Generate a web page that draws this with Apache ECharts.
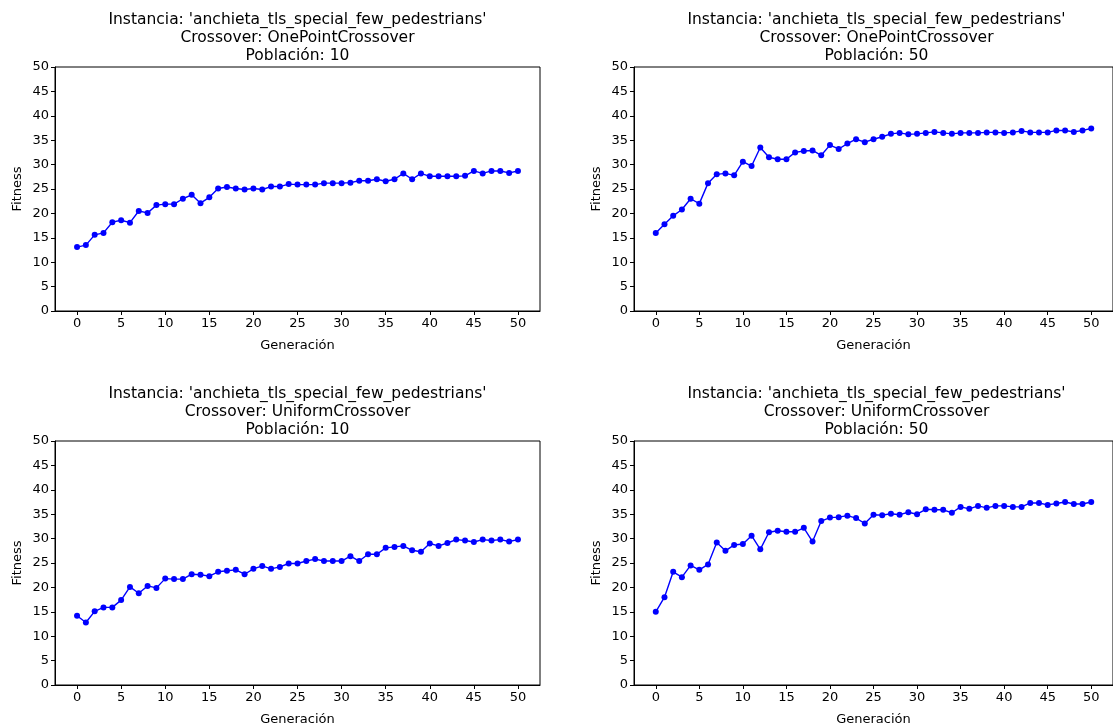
<!DOCTYPE html>
<html>
<head>
<meta charset="utf-8">
<script src="https://cdn.jsdelivr.net/npm/echarts@6/dist/echarts.min.js"></script>
<style>
html,body{margin:0;padding:0;background:#fff;}
#c{width:1113px;height:727px;}
</style>
</head>
<body>
<div id="c"></div>
<script>
const generations = Array.from({length: 51}, (_, i) => i);
const xTicks = [0, 5, 10, 15, 20, 25, 30, 35, 40, 45, 50];
const yTicks = [0, 5, 10, 15, 20, 25, 30, 35, 40, 45, 50];

const onePoint10 = [13.1,13.5,15.6,16.0,18.2,18.6,18.1,20.5,20.1,21.7,21.9,21.9,23.0,23.8,22.1,23.3,25.1,25.4,25.1,24.9,25.1,24.9,25.5,25.5,26.0,25.9,25.9,25.9,26.2,26.2,26.2,26.3,26.7,26.7,27.0,26.6,27.0,28.2,27.0,28.2,27.6,27.6,27.6,27.6,27.7,28.7,28.2,28.7,28.7,28.3,28.7];
const onePoint50 = [16.0,17.8,19.5,20.8,23.0,22.0,26.2,28.0,28.2,27.8,30.6,29.7,33.5,31.5,31.1,31.1,32.5,32.8,32.9,31.9,34.0,33.2,34.3,35.2,34.6,35.2,35.7,36.3,36.5,36.2,36.3,36.5,36.7,36.5,36.3,36.5,36.5,36.5,36.6,36.6,36.5,36.6,36.9,36.6,36.6,36.6,37.0,37.0,36.7,37.0,37.4];
const uniform10 = [14.2,12.8,15.1,15.9,15.9,17.4,20.1,18.8,20.3,19.9,21.8,21.7,21.7,22.7,22.6,22.3,23.2,23.4,23.6,22.7,23.8,24.4,23.8,24.2,24.9,24.9,25.4,25.8,25.4,25.4,25.4,26.4,25.4,26.8,26.8,28.1,28.3,28.5,27.6,27.3,29.0,28.5,29.1,29.8,29.6,29.3,29.8,29.6,29.8,29.4,29.8];
const uniform50 = [15.0,18.0,23.2,22.1,24.5,23.6,24.7,29.2,27.5,28.7,28.9,30.6,27.8,31.3,31.6,31.4,31.4,32.2,29.4,33.6,34.3,34.4,34.7,34.2,33.1,34.9,34.8,35.1,34.9,35.4,35.0,36.0,35.9,35.9,35.3,36.5,36.1,36.7,36.3,36.7,36.7,36.5,36.5,37.3,37.3,36.9,37.2,37.5,37.1,37.1,37.5];

const instanceName = "Instancia: 'anchieta_tls_special_few_pedestrians'";
const panels = [
  {crossover: 'OnePointCrossover', pop: 10, data: onePoint10},
  {crossover: 'OnePointCrossover', pop: 50, data: onePoint50},
  {crossover: 'UniformCrossover', pop: 10, data: uniform10},
  {crossover: 'UniformCrossover', pop: 50, data: uniform50}
];

const FONT = 'DejaVu Sans';
const lefts = [55, 634];
const tops = [67, 441];
const W = 485, H = 244;

const grids = [], xAxes = [], yAxes = [], series = [], titles = [];
panels.forEach((p, i) => {
  const col = i % 2, row = Math.floor(i / 2);
  grids.push({left: lefts[col], top: tops[row], width: W, height: H,
    show: true, borderColor: '#000', borderWidth: 1, backgroundColor: 'transparent', containLabel: false});
  xAxes.push({
    type: 'value', gridIndex: i, min: -2.5, max: 52.5,
    name: 'Generación', nameLocation: 'middle', nameGap: 28,
    nameTextStyle: {fontFamily: FONT, fontSize: 13, color: '#000'},
    axisLine: {show: true, onZero: false, lineStyle: {color: '#000', width: 1}},
    axisTick: {show: true, length: 4, lineStyle: {color: '#000'}, customValues: xTicks},
    axisLabel: {fontFamily: FONT, fontSize: 13, color: '#000', margin: 6, customValues: xTicks},
    splitLine: {show: false}
  });
  yAxes.push({
    type: 'value', gridIndex: i, min: 0, max: 50, interval: 5,
    name: 'Fitness', nameLocation: 'middle', nameGap: 31,
    nameTextStyle: {fontFamily: FONT, fontSize: 13, color: '#000'},
    axisLine: {show: true, onZero: false, lineStyle: {color: '#000', width: 1}},
    axisTick: {show: true, length: 4, lineStyle: {color: '#000'}},
    axisLabel: {fontFamily: FONT, fontSize: 13, color: '#000', margin: 6},
    splitLine: {show: false}
  });
  series.push({
    type: 'line', xAxisIndex: i, yAxisIndex: i,
    data: generations.map((g, k) => [g, p.data[k]]),
    symbol: 'circle', symbolSize: 6, showSymbol: true,
    lineStyle: {color: '#0000ff', width: 1.4},
    itemStyle: {color: '#0000ff'},
    emphasis: {disabled: true}
  });
  titles.push({
    text: instanceName + '\nCrossover: ' + p.crossover + '\nPoblación: ' + p.pop,
    left: lefts[col] + W / 2, top: tops[row] - 56, textAlign: 'center', padding: 0,
    textStyle: {fontFamily: FONT, fontSize: 15.5, fontWeight: 'normal', color: '#000', lineHeight: 18}
  });
});

const chart = echarts.init(document.getElementById('c'), null, {renderer: 'canvas'});
chart.setOption({
  animation: false,
  backgroundColor: '#fff',
  title: titles,
  grid: grids,
  xAxis: xAxes,
  yAxis: yAxes,
  series: series
});
</script>
</body>
</html>
